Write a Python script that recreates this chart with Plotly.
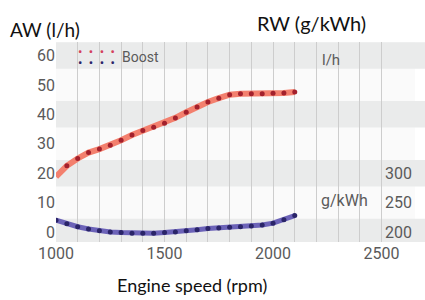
import plotly.graph_objects as go

# ---- data ----
rpm = [1000, 1050, 1100, 1150, 1200, 1250, 1300, 1350, 1400, 1450, 1500, 1550,
       1600, 1650, 1700, 1750, 1800, 1850, 1900, 1950, 2000, 2050, 2100]
fuel_lph = [18.8, 22.5, 25.0, 27.0, 28.2, 29.5, 31.2, 33.0, 34.5, 35.6, 37.0, 38.8,
            40.7, 42.5, 44.2, 45.5, 46.7, 47.0, 47.0, 47.0, 47.2, 47.3, 47.6]
sfc_gkwh = [220, 214, 209, 205, 202, 200, 199, 198, 198, 198, 199, 200,
            202, 204, 206, 207, 208, 209, 210, 212, 215, 221, 228]

left_ticks = [0, 10, 20, 30, 40, 50, 60]
right_ticks = [200, 250, 300]
x_ticks = [1000, 1500, 2000, 2500]
band_centers = [0, 20, 40, 60]

NARROW = "Roboto, Liberation Sans, sans-serif"
BODY = "Lato, Carlito, Calibri, Open Sans, sans-serif"
TICK_COL = "#5a5a5a"
R_MARGIN = 10
LEGEND_DOTS = "\u2022\u00a0 \u2022\u00a0 \u2022\u00a0 \u2022"

fig = go.Figure()

# fuel consumption (l/h): salmon line with dark red dots
fig.add_trace(go.Scatter(x=rpm, y=fuel_lph, mode="lines",
                         line=dict(color="#f3806e", width=6), showlegend=False,
                         hoverinfo="skip"))
fig.add_trace(go.Scatter(x=rpm[1:], y=fuel_lph[1:], mode="markers",
                         marker=dict(color="#a3202c", size=5), showlegend=False))

# specific fuel consumption (g/kWh): purple line with navy dots
fig.add_trace(go.Scatter(x=rpm, y=sfc_gkwh, mode="lines", yaxis="y2",
                         line=dict(color="#6c63b8", width=5), showlegend=False,
                         hoverinfo="skip"))
fig.add_trace(go.Scatter(x=rpm, y=sfc_gkwh, mode="markers", yaxis="y2",
                         marker=dict(color="#2a2468", size=5), showlegend=False))

# alternating background bands (extend across the right label strip)
shapes = []
for c in band_centers:
    shapes.append(dict(type="rect", xref="paper", x0=0, x1=1 + R_MARGIN / 359,
                       yref="y", y0=c - 4.5, y1=c + 4.5, fillcolor="#eaebeb",
                       line=dict(width=0), layer="below"))

annotations = [
    dict(text="AW (l/h)", xref="paper", yref="paper", x=-0.03, y=1.065,
         showarrow=False, font=dict(family=BODY, size=19, color="#111"),
         xanchor="center", yanchor="middle"),
    dict(text="RW (g/kWh)", xref="paper", yref="paper", x=0.713, y=1.095,
         showarrow=False, font=dict(family=BODY, size=20, color="#111"),
         xanchor="center", yanchor="middle"),
    dict(text="Engine speed (rpm)", xref="paper", yref="paper", x=0.378, y=-0.215,
         showarrow=False, font=dict(family=BODY, size=18, color="#111"),
         xanchor="center", yanchor="middle"),
    dict(text="l/h", xref="paper", yref="paper", x=0.766, y=0.91,
         showarrow=False, font=dict(family=NARROW, size=15, color=TICK_COL),
         xanchor="center", yanchor="middle"),
    dict(text="g/kWh", xref="paper", yref="paper", x=0.805, y=0.21,
         showarrow=False, font=dict(family=NARROW, size=16, color=TICK_COL),
         xanchor="center", yanchor="middle"),
    dict(text="Boost", xref="paper", yref="paper", x=0.235, y=0.925,
         showarrow=False, font=dict(family=NARROW, size=14, color=TICK_COL),
         xanchor="center", yanchor="middle"),
    dict(text=LEGEND_DOTS, xref="paper", yref="paper", x=0.114, y=0.955,
         showarrow=False, font=dict(family=NARROW, size=13, color="#d4405c"),
         xanchor="center", yanchor="middle", borderpad=0),
    dict(text=LEGEND_DOTS, xref="paper", yref="paper", x=0.114, y=0.9,
         showarrow=False, font=dict(family=NARROW, size=13, color="#2a2468"),
         xanchor="center", yanchor="middle", borderpad=0),
]

fig.update_layout(
    width=425, height=300,
    margin=dict(l=56, r=R_MARGIN, t=42, b=58),
    paper_bgcolor="#ffffff", plot_bgcolor="#fafafa",
    showlegend=False,
    shapes=shapes, annotations=annotations,
    xaxis=dict(range=[1000, 2654], tickvals=x_ticks, showgrid=True,
               gridcolor="#cdcdcd", gridwidth=1, zeroline=False, showline=False,
               ticks="", tickfont=dict(family=NARROW, size=16, color=TICK_COL),
               minor=dict(dtick=100, tick0=1000, showgrid=True, gridcolor="#cdcdcd",
                          gridwidth=1)),
    yaxis=dict(range=[-3.4, 64.6], tickvals=left_ticks, showgrid=False,
               zeroline=False, showline=False, ticks="",
               tickfont=dict(family=NARROW, size=16, color=TICK_COL)),
    yaxis2=dict(range=[200 + 5 * -3.4, 200 + 5 * 64.6], tickvals=right_ticks,
                overlaying="y", side="right", showgrid=False, zeroline=False,
                showline=False, ticks="", ticklabelposition="inside",
                tickfont=dict(family=NARROW, size=16, color=TICK_COL)),
)

fig.write_html("out.html", config={"displayModeBar": False},
               post_script="document.body.style.margin='0';")
